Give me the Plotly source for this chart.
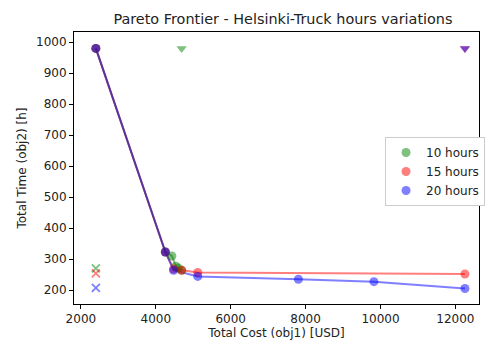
import plotly.graph_objects as go

labels = ["10 hours", "15 hours", "20 hours"]
colors = ["rgba(0,128,0,0.5)", "rgba(255,0,0,0.5)", "rgba(0,0,255,0.5)"]

cost_10 = [2400, 4255, 4430, 4535, 4605, 4690]
time_10 = [980, 323, 310, 277, 271, 264]
cost_15 = [2400, 4255, 4474, 4690, 5120, 12255]
time_15 = [980, 323, 268, 264, 257, 252]
cost_20 = [2400, 4255, 4474, 5120, 7807, 9824, 12255]
time_20 = [980, 323, 264, 244, 235, 227, 205]

# nadir (max cost, max time) and utopia (min cost, min time) points
nadir_cost = [4690, 12255, 12255]
nadir_time = [980, 980, 980]
utopia_cost = [2400, 2400, 2400]
utopia_time = [270, 254, 207]

x_ticks = [2000, 4000, 6000, 8000, 10000, 12000]
y_ticks = [200, 300, 400, 500, 600, 700, 800, 900, 1000]

series = [(cost_10, time_10), (cost_15, time_15), (cost_20, time_20)]

fig = go.Figure()
for i, (c, t) in enumerate(series):
    fig.add_trace(go.Scatter(x=c, y=t, mode="lines", line=dict(color=colors[i], width=2),
                             showlegend=False, hoverinfo="skip"))
for i, (c, t) in enumerate(series):
    fig.add_trace(go.Scatter(x=c, y=t, mode="markers", name=labels[i],
                             marker=dict(color=colors[i], size=9, line=dict(width=0))))
for i in range(3):
    fig.add_trace(go.Scatter(x=[nadir_cost[i]], y=[nadir_time[i]], mode="markers", showlegend=False,
                             marker=dict(color=colors[i], size=9, symbol="triangle-down", line=dict(width=0))))
    fig.add_trace(go.Scatter(x=[utopia_cost[i]], y=[utopia_time[i]], mode="markers", showlegend=False,
                             marker=dict(color=colors[i], size=8, symbol="x-thin",
                                         line=dict(width=1.8, color=colors[i]))))

axis_common = dict(showline=True, linecolor="black", linewidth=1, mirror=True, ticks="outside",
                   ticklen=4, tickcolor="black", showgrid=False, zeroline=False,
                   tickfont=dict(size=12, color="#222"))

fig.update_layout(
    width=487, height=344,
    margin=dict(l=74, r=2, t=32, b=40),
    plot_bgcolor="white", paper_bgcolor="white",
    font=dict(family="DejaVu Sans", size=12, color="#222"),
    title=dict(text="Pareto Frontier - Helsinki-Truck hours variations", x=0.581, xanchor="center",
               y=0.945, yanchor="middle", font=dict(size=14.4, color="#222")),
    xaxis=dict(range=[1816, 12630], tickvals=x_ticks, ticktext=[str(v) for v in x_ticks],
               title=dict(text="Total Cost (obj1) [USD]", standoff=3, font=dict(size=12)), **axis_common),
    yaxis=dict(range=[155, 1033], tickvals=y_ticks, ticktext=[str(v) for v in y_ticks],
               title=dict(text="Total Time (obj2) [h]", standoff=6, font=dict(size=12)), **axis_common),
    legend=dict(x=0.768, y=0.614, xanchor="left", yanchor="top", bordercolor="#ccc", borderwidth=1,
                bgcolor="white", font=dict(size=12), itemwidth=30, tracegroupgap=0),
)

fig.write_html("out.html")
